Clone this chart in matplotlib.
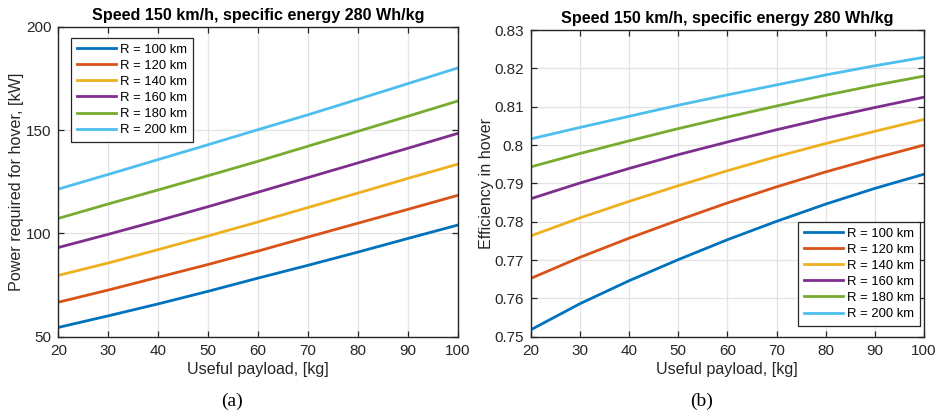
"""
Hover power and hover efficiency versus useful payload for several ranges.
Two panels side by side, MATLAB-like styling.
"""

import matplotlib
matplotlib.use('Agg')
import matplotlib.pyplot as plt
from matplotlib.ticker import FormatStrFormatter

# Data
payload = [20, 30, 40, 50, 60, 70, 80, 90, 100]
ranges = ['R = 100 km', 'R = 120 km', 'R = 140 km', 'R = 160 km', 'R = 180 km', 'R = 200 km']

power_r100 = [54.5, 60.1, 65.9, 72.0, 78.4, 84.6, 91.0, 97.6, 104.1]
power_r120 = [66.7, 72.6, 78.8, 85.0, 91.5, 98.3, 105.0, 111.7, 118.5]
power_r140 = [79.7, 85.7, 92.2, 98.8, 105.6, 112.6, 119.6, 126.7, 133.6]
power_r160 = [93.2, 99.6, 106.2, 113.0, 120.0, 127.1, 134.2, 141.3, 148.5]
power_r180 = [107.3, 114.3, 121.1, 128.0, 135.0, 142.3, 149.5, 156.8, 164.2]
power_r200 = [121.5, 128.6, 135.8, 143.0, 150.3, 157.5, 165.0, 172.6, 180.2]

eff_r100 = [0.7518, 0.7586, 0.7646, 0.7701, 0.7753, 0.7801, 0.7846, 0.7887, 0.7924]
eff_r120 = [0.7652, 0.7707, 0.7757, 0.7804, 0.7849, 0.7891, 0.7930, 0.7966, 0.8000]
eff_r140 = [0.7763, 0.7810, 0.7853, 0.7894, 0.7933, 0.7970, 0.8004, 0.8036, 0.8067]
eff_r160 = [0.7860, 0.7901, 0.7939, 0.7975, 0.8008, 0.8040, 0.8070, 0.8098, 0.8125]
eff_r180 = [0.7943, 0.7978, 0.8011, 0.8043, 0.8073, 0.8102, 0.8130, 0.8156, 0.8180]
eff_r200 = [0.8016, 0.8046, 0.8075, 0.8104, 0.8131, 0.8157, 0.8183, 0.8207, 0.8229]

power_series = [power_r100, power_r120, power_r140, power_r160, power_r180, power_r200]
eff_series = [eff_r100, eff_r120, eff_r140, eff_r160, eff_r180, eff_r200]

x_ticks = [20, 30, 40, 50, 60, 70, 80, 90, 100]
power_ticks = [50, 100, 150, 200]
eff_ticks = [0.75, 0.76, 0.77, 0.78, 0.79, 0.80, 0.81, 0.82, 0.83]

title = 'Speed 150 km/h, specific energy 280 Wh/kg'

# MATLAB default line colours
colors = ['#0072BD', '#D95319', '#EDB120', '#7E2F8E', '#77AC30', '#4DBEEE']

plt.rcParams['font.family'] = ['Liberation Sans', 'DejaVu Sans']
axis_color = '#262626'


def style_axes(ax):
    ax.grid(True, color='#e3e3e3', linewidth=0.9)
    ax.set_axisbelow(True)
    for sp in ax.spines.values():
        sp.set_color(axis_color)
        sp.set_linewidth(1.0)
    ax.tick_params(direction='in', top=True, right=True, length=4,
                   width=0.9, color=axis_color, labelcolor=axis_color,
                   labelsize=11, pad=5)


def make_legend(ax, loc, anchor):
    leg = ax.legend(loc=loc, bbox_to_anchor=anchor, fontsize=9.4, frameon=True,
                    fancybox=False, framealpha=1, edgecolor=axis_color,
                    handlelength=3.0, handletextpad=0.3, labelspacing=0.3,
                    borderpad=0.45, borderaxespad=0.0)
    leg.get_frame().set_linewidth(0.9)
    return leg


fig = plt.figure(figsize=(9.37, 4.16), dpi=100)

# (a) power required for hover
ax1 = fig.add_axes([0.0622, 0.1906, 0.4266, 0.7445])
for vals, lab, c in zip(power_series, ranges, colors):
    ax1.plot(payload, vals, color=c, linewidth=2.0, label=lab)
ax1.set_xlim(20, 100)
ax1.set_ylim(50, 200)
ax1.set_xticks(x_ticks)
ax1.set_yticks(power_ticks)
style_axes(ax1)
ax1.set_title(title, fontsize=11.6, fontweight='bold', pad=5)
ax1.set_xlabel('Useful payload, [kg]', fontsize=11.6, color=axis_color, labelpad=3)
ax1.set_ylabel('Power required for hover, [kW]', fontsize=11.6, color=axis_color, labelpad=1)
make_legend(ax1, 'upper left', (0.032, 0.965))

# (b) efficiency in hover
ax2 = fig.add_axes([0.5664, 0.1906, 0.4197, 0.737])
for vals, lab, c in zip(eff_series, ranges, colors):
    ax2.plot(payload, vals, color=c, linewidth=2.0, label=lab)
ax2.set_xlim(20, 100)
ax2.set_ylim(0.75, 0.83)
ax2.set_xticks(x_ticks)
ax2.set_yticks(eff_ticks)
ax2.yaxis.set_major_formatter(FormatStrFormatter('%g'))
style_axes(ax2)
ax2.set_title(title, fontsize=11.6, fontweight='bold', pad=5)
ax2.set_xlabel('Useful payload, [kg]', fontsize=11.6, color=axis_color, labelpad=3)
ax2.set_ylabel('Efficiency in hover', fontsize=11.6, color=axis_color, labelpad=0)
make_legend(ax2, 'lower right', (0.99, 0.035))

# panel captions
fig.text(0.2476, 0.035, '(a)', family=['Liberation Serif', 'DejaVu Serif'],
         fontsize=14, ha='center', va='center')
fig.text(0.7487, 0.035, '(b)', family=['Liberation Serif', 'DejaVu Serif'],
         fontsize=14, ha='center', va='center')

fig.savefig('out.png', dpi=100)
